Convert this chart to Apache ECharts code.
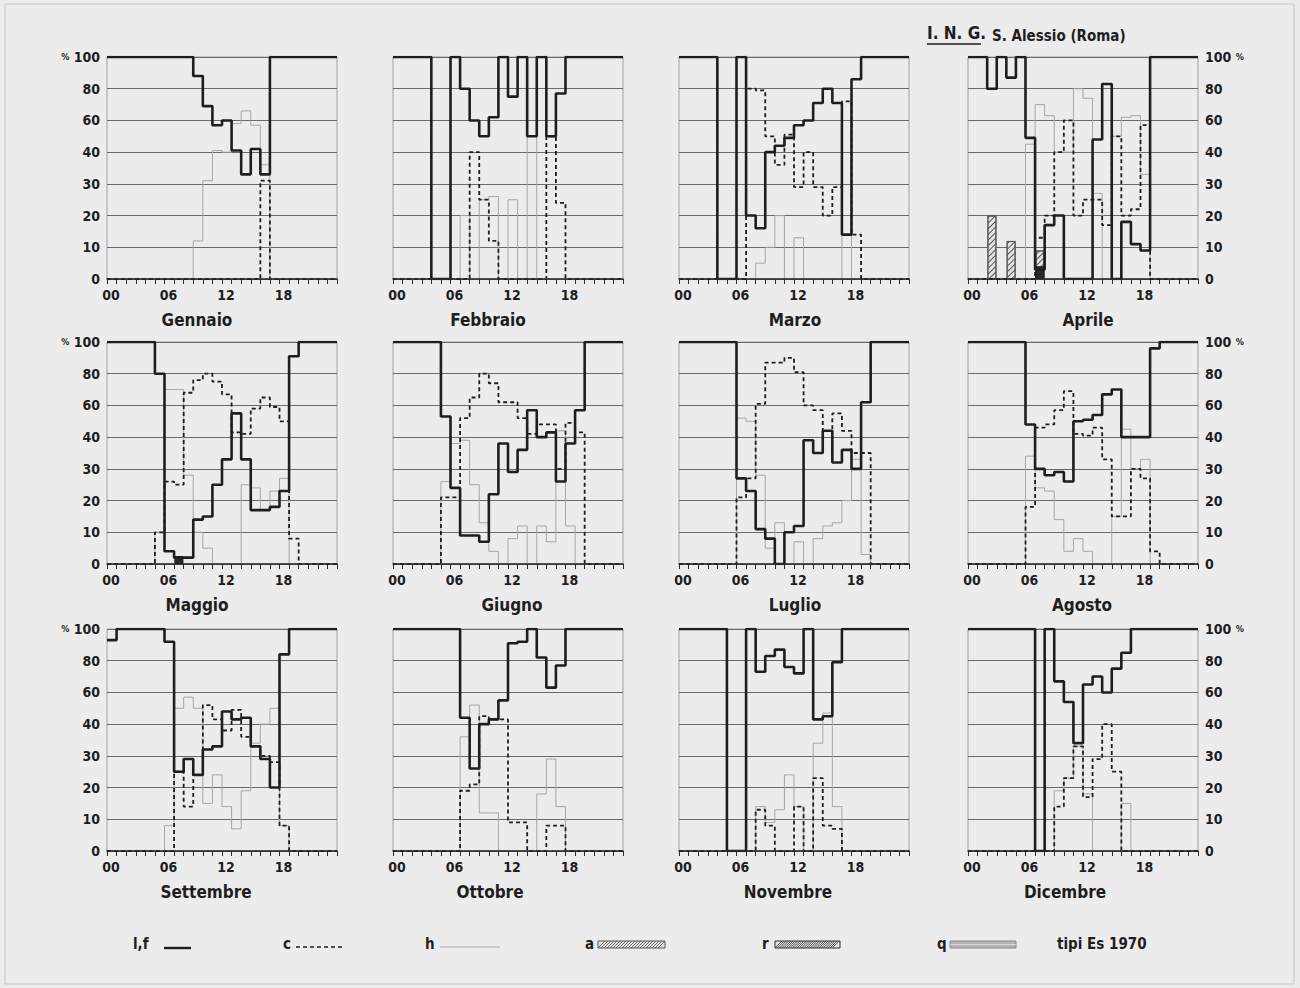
<!DOCTYPE html>
<html>
<head>
<meta charset="utf-8">
<script src="https://cdn.jsdelivr.net/npm/echarts@6/dist/echarts.min.js"></script>
<style>
html,body{margin:0;padding:0;background:#ececec;}
#chart{width:1300px;height:988px;}
</style>
</head>
<body>
<div id="chart"></div>
<script>
// ---------------- DATA ----------------
const months = ['Gennaio','Febbraio','Marzo','Aprile','Maggio','Giugno','Luglio','Agosto','Settembre','Ottobre','Novembre','Dicembre'];
const yTickLabels = ['0','10','20','30','40','60','80','100'];   // non-linear scale steps
const xTickLabels = ['00','06','12','18'];
const legendLabels = ['l,f','c','h','a','r','q'];
const noteText = 'tipi Es 1970';
const headerMain = 'I. N. G.';
const headerSub = 'S. Alessio (Roma)';

// hourly values (hour 00..23), percent
const lfGen = [100,100,100,100,100,100,100,100,100,88,69,57,60,41,33,42,33,100,100,100,100,100,100,100];
const cGen  = [0,0,0,0,0,0,0,0,0,0,0,0,0,0,0,0,31,0,0,0,0,0,0,0];
const hGen  = [0,0,0,0,0,0,0,0,0,12,31,41,40,58,66,57,36,0,0,0,0,0,0,0];

const lfFeb = [100,100,100,100,0,0,100,80,60,50,62,100,75,100,50,100,50,77,100,100,100,100,100,100];
const cFeb  = [0,0,0,0,0,0,0,0,40,25,12,0,0,0,0,0,50,24,0,0,0,0,0,0];
const hFeb  = [0,0,0,0,0,0,0,20,0,25,26,0,25,0,50,0,0,0,0,0,0,0,0,0];

const lfMar = [100,100,100,100,0,0,100,20,16,40,44,49,57,60,71,80,71,14,86,100,100,100,100,100];
const cMar  = [0,0,0,0,0,0,0,80,79,50,36,51,29,40,29,20,29,72,14,0,0,0,0,0];
const hMar  = [0,0,0,0,0,0,0,0,5,10,20,0,13,0,0,0,0,14,0,0,0,0,0,0];

const lfApr = [100,100,80,100,87,100,49,3,17,20,0,0,0,48,83,0,18,11,9,100,100,100,100,100];
const cApr  = [0,0,0,0,0,0,0,13,20,40,60,20,25,25,17,50,20,22,57,0,0,0,0,0];
const hApr  = [0,0,0,0,0,0,45,70,63,40,40,80,74,27,0,50,62,63,33,0,0,0,0,0];
const aApr  = [0,0,20,0,12,0,0,9,0,0,0,0,0,0,0,0,0,0,0,0,0,0,0,0];
const rApr  = [0,0,0,0,0,0,0,4,0,0,0,0,0,0,0,0,0,0,0,0,0,0,0,0];

const lfMag = [100,100,100,100,100,80,4,2,2,14,15,25,33,55,33,17,17,18,23,91,100,100,100,100];
const cMag  = [0,0,0,0,0,10,26,25,68,76,80,75,67,43,42,58,65,59,50,8,0,0,0,0];
const hMag  = [0,0,0,0,0,10,70,70,28,10,5,0,0,0,25,24,17,23,27,0,0,0,0,0];
const rMag  = [0,0,0,0,0,0,0,2.5,0,0,0,0,0,0,0,0,0,0,0,0,0,0,0,0];

const lfGiu = [100,100,100,100,100,53,24,9,9,7,22,38,29,36,57,40,43,26,38,57,100,100,100,100];
const cGiu  = [0,0,0,0,0,21,21,52,65,80,74,62,62,52,42,48,48,30,49,43,0,0,0,0];
const hGiu  = [0,0,0,0,0,26,38,39,25,13,4,0,8,12,0,12,7,44,12,0,0,0,0,0];

const lfLug = [100,100,100,100,100,100,27,23,11,8,0,10,12,39,35,44,32,36,30,62,100,100,100,100];
const cLug  = [0,0,0,0,0,0,21,27,61,87,87,90,81,60,57,44,55,44,35,35,0,0,0,0];
const hLug  = [0,0,0,0,0,0,52,50,28,5,13,0,7,0,8,12,13,20,33,3,0,0,0,0];

const lfAgo = [100,100,100,100,100,100,48,30,28,29,26,50,51,54,67,70,40,40,40,96,100,100,100,100];
const cAgo  = [0,0,0,0,0,0,18,46,48,57,69,42,41,46,33,15,15,30,27,4,0,0,0,0];
const hAgo  = [0,0,0,0,0,0,34,24,23,14,4,8,4,0,0,15,45,30,33,0,0,0,0,0];

const lfSet = [93,100,100,100,100,100,92,25,29,24,32,33,48,43,44,33,29,20,84,100,100,100,100,100];
const cSet  = [0,0,0,0,0,0,0,25,14,24,52,43,38,49,36,33,30,28,8,0,0,0,0,0];
const hSet  = [0,0,0,0,0,0,8,50,57,50,15,24,14,7,19,34,40,50,8,0,0,0,0,0];

const lfOtt = [100,100,100,100,100,100,100,44,26,40,43,55,91,92,100,82,63,77,100,100,100,100,100,100];
const cOtt  = [0,0,0,0,0,0,0,19,21,45,43,43,9,9,0,0,8,8,0,0,0,0,0,0];
const hOtt  = [0,0,0,0,0,0,0,36,52,12,12,0,0,0,0,18,29,14,0,0,0,0,0,0];

const lfNov = [100,100,100,100,100,0,0,100,73,83,87,76,72,100,43,45,79,100,100,100,100,100,100,100];
const cNov  = [0,0,0,0,0,0,0,0,13,8,0,0,14,0,23,8,7,0,0,0,0,0,0,0];
const hNov  = [0,0,0,0,0,0,0,0,14,9,13,24,14,0,34,47,14,0,0,0,0,0,0,0];

const lfDic = [100,100,100,100,100,100,100,0,100,67,54,34,65,70,60,75,85,100,100,100,100,100,100,100];
const cDic  = [0,0,0,0,0,0,0,0,0,14,23,33,17,29,40,25,0,0,0,0,0,0,0,0];
const hDic  = [0,0,0,0,0,0,0,0,0,19,23,33,18,0,0,0,15,0,0,0,0,0,0,0];

const panels = [
  {lf:lfGen,c:cGen,h:hGen},{lf:lfFeb,c:cFeb,h:hFeb},{lf:lfMar,c:cMar,h:hMar},{lf:lfApr,c:cApr,h:hApr,a:aApr,r:rApr},
  {lf:lfMag,c:cMag,h:hMag,r:rMag},{lf:lfGiu,c:cGiu,h:hGiu},{lf:lfLug,c:cLug,h:hLug},{lf:lfAgo,c:cAgo,h:hAgo},
  {lf:lfSet,c:cSet,h:hSet},{lf:lfOtt,c:cOtt,h:hOtt},{lf:lfNov,c:cNov,h:hNov},{lf:lfDic,c:cDic,h:hDic}
];

// ---------------- LAYOUT / STYLE ----------------
const FONT = "'Liberation Sans Narrow','DejaVu Sans Condensed','Roboto Condensed',sans-serif";
const LEFTS = [107, 393, 679, 968], TOPS = [57, 342, 629], W = 230, H = 222;
const titleX = [197,488,795,1088,197,512,795,1082,206,490,788,1065];
const INK = '#1e1e1e';

// non-linear vertical scale: 0..40 by 10, then 40..100 by 20
function pos(v){ return v <= 40 ? v/10 : 4 + (v-40)/20; }
function steps(arr){
  const d = arr.map((v,h)=>[h, pos(v)]);
  d.push([24, pos(arr[arr.length-1])]);
  return d;
}
function bars(arr){
  const d = [];
  arr.forEach((v,h)=>{ if(v>0) d.push([h+0.5, pos(v)]); });
  return d;
}

const grids=[], xAxes=[], yAxes=[], series=[], graphics=[];
panels.forEach((p,i)=>{
  const col = i%4, row = Math.floor(i/4);
  grids.push({left:LEFTS[col], top:TOPS[row], width:W, height:H, show:true,
    borderColor:'#a0a0a0', borderWidth:1, backgroundColor:'transparent'});
  xAxes.push({type:'value', gridIndex:i, min:0, max:24, interval:1, z:5,
    axisLine:{show:true, onZero:false, lineStyle:{color:'#2a2a2a', width:1.5}},
    axisTick:{show:true, length:5, lineStyle:{color:'#2a2a2a', width:1}},
    axisLabel:{formatter:v => (v%6===0 && v<24) ? xTickLabels[v/6] : '',
      fontFamily:FONT, fontWeight:'bold', fontSize:14, color:INK, margin:9, padding:[0,0,0,8]},
    splitLine:{show:false}});
  const showY = col===0 || col===3;
  yAxes.push({type:'value', gridIndex:i, min:0, max:7, interval:1,
    position: col===3 ? 'right' : 'left',
    axisLine:{show:false}, axisTick:{show:false},
    axisLabel:{show:showY, margin:7, fontFamily:FONT, fontWeight:'bold', fontSize:14, color:INK,
      formatter:v => {
        const t = yTickLabels[v];
        if (v===7) return col===0 ? '{s|%} ' + t : t + ' {s|%}';
        return t;
      },
      rich:{s:{fontSize:9, fontFamily:FONT, fontWeight:'bold', color:INK}}},
    splitLine:{show:true, lineStyle:{color:'#6a6a6a', width:1}}});

  series.push({name:'h', type:'line', xAxisIndex:i, yAxisIndex:i, step:'end', symbol:'none',
    data:steps(p.h), lineStyle:{color:'#a6a6a6', width:1}, z:2, silent:true});
  series.push({name:'c', type:'line', xAxisIndex:i, yAxisIndex:i, step:'end', symbol:'none',
    data:steps(p.c), lineStyle:{color:INK, width:1.8, type:[4,3]}, z:3, silent:true});
  series.push({name:'l,f', type:'line', xAxisIndex:i, yAxisIndex:i, step:'end', symbol:'none',
    data:steps(p.lf), lineStyle:{color:INK, width:2.6}, z:4, silent:true});
  if (p.a) series.push({name:'a', type:'bar', xAxisIndex:i, yAxisIndex:i, barWidth:9, data:bars(p.a), z:1, silent:true,
    itemStyle:{color:'#e4e4e4', borderColor:'#555', borderWidth:1,
      decal:{symbol:'rect', symbolSize:1, dashArrayX:[1,0], dashArrayY:[1,3], rotation:-Math.PI/4, color:'#555'}}});
  if (p.r) series.push({name:'r', type:'bar', xAxisIndex:i, yAxisIndex:i, barWidth:9, barGap:'-100%', data:bars(p.r), z:2, silent:true,
    itemStyle:{color:'#2a2a2a', borderColor:'#111', borderWidth:1}});

  graphics.push({type:'text', x:titleX[i], y:TOPS[row]+H+41,
    style:{text:months[i], fontFamily:FONT, fontWeight:'bold', fontSize:17, fill:INK, align:'center', verticalAlign:'middle'}});
});

// header
graphics.push({type:'text', x:927, y:33, style:{text:headerMain, fontFamily:FONT, fontWeight:'bold', fontSize:17, fill:INK, align:'left', verticalAlign:'middle'}});
graphics.push({type:'line', shape:{x1:927, y1:44, x2:981, y2:44}, style:{stroke:INK, lineWidth:1.5}});
graphics.push({type:'text', x:992, y:36, style:{text:headerSub, fontFamily:FONT, fontWeight:'bold', fontSize:15, fill:INK, align:'left', verticalAlign:'middle'}});

// legend
const LY = 944;
function label(t,x){ graphics.push({type:'text', x:x, y:LY, style:{text:t, fontFamily:FONT, fontWeight:'bold', fontSize:15, fill:INK, align:'left', verticalAlign:'middle'}}); }
label(legendLabels[0],133);
graphics.push({type:'line', shape:{x1:164,y1:LY+4,x2:191,y2:LY+4}, style:{stroke:INK, lineWidth:2.4}});
label(legendLabels[1],283);
graphics.push({type:'line', shape:{x1:296,y1:LY+3,x2:344,y2:LY+3}, style:{stroke:INK, lineWidth:1.6, lineDash:[4,3]}});
label(legendLabels[2],425);
graphics.push({type:'line', shape:{x1:440,y1:LY+3,x2:500,y2:LY+3}, style:{stroke:'#a6a6a6', lineWidth:1}});
function hatch(x0,x1,dense,dark){
  graphics.push({type:'rect', shape:{x:x0,y:LY-3,width:x1-x0,height:7}, style:{fill:'#e2e2e2', stroke:dark, lineWidth:1}});
  for(let x=x0; x<=x1-7; x+=dense){
    graphics.push({type:'line', shape:{x1:x,y1:LY+4,x2:x+7,y2:LY-3}, style:{stroke:dark, lineWidth:0.8}});
  }
}
label(legendLabels[3],585); hatch(598,665,3,'#555');
label(legendLabels[4],762); hatch(775,840,2.2,'#333');
label(legendLabels[5],937);
graphics.push({type:'rect', shape:{x:950,y:LY-3,width:66,height:7}, style:{fill:'#b4b4b4', stroke:'#8a8a8a', lineWidth:1}});
graphics.push({type:'line', shape:{x1:950,y1:LY+0.5,x2:1016,y2:LY+0.5}, style:{stroke:'#d8d8d8', lineWidth:1}});
label(noteText,1057);

// outer frame
graphics.push({type:'rect', shape:{x:5,y:4,width:1289,height:980}, style:{fill:'none', stroke:'#c4c4c4', lineWidth:1}, z:-1});

const chart = echarts.init(document.getElementById('chart'), null, {renderer:'svg'});
chart.setOption({
  backgroundColor:'#ececec',
  animation:false,
  grid:grids, xAxis:xAxes, yAxis:yAxes, series:series,
  graphic:{elements:graphics}
});
</script>
</body>
</html>
